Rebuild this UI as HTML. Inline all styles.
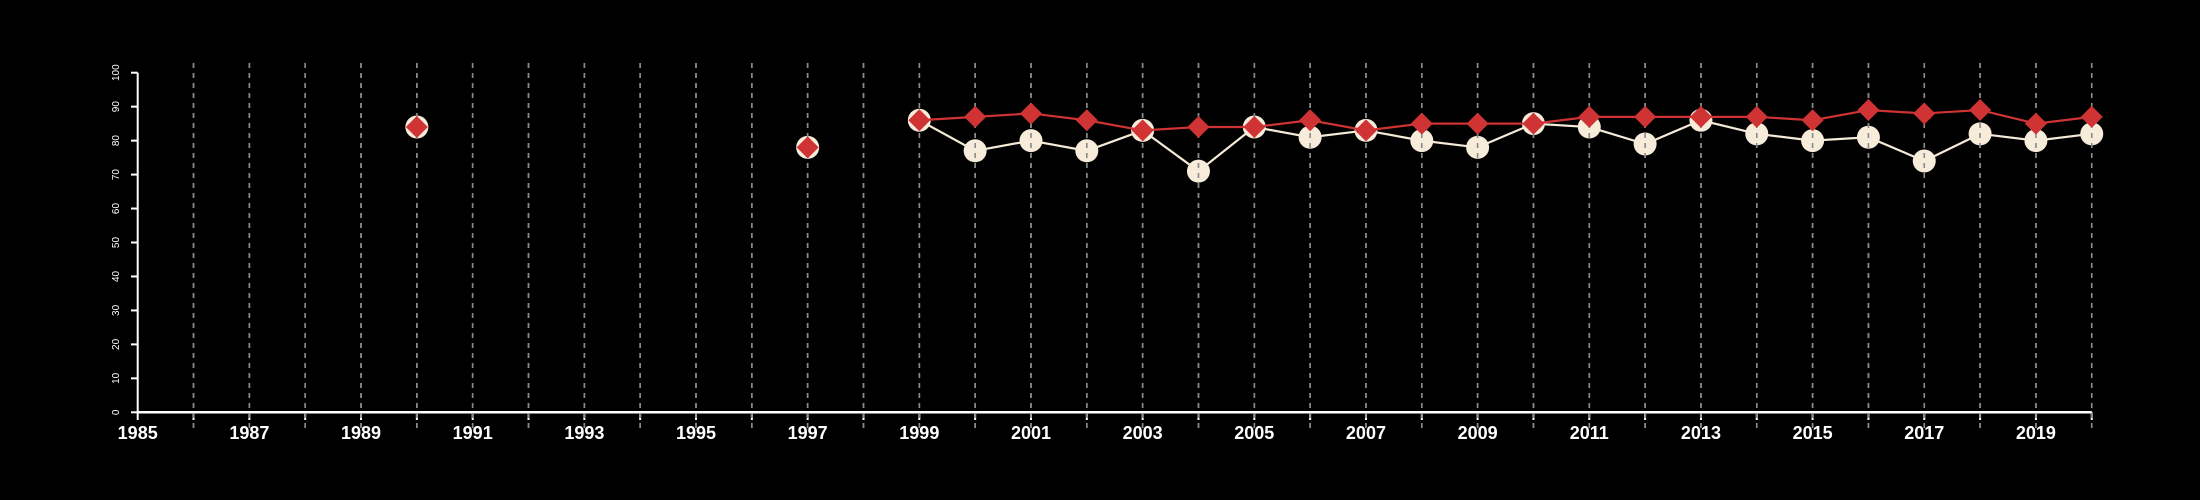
<!DOCTYPE html>
<html><head><meta charset="utf-8"><style>
html,body{margin:0;padding:0;background:#000;}
svg{display:block;font-family:"Liberation Sans",Arial,sans-serif;}
</style></head><body>
<svg id="chart" width="2200" height="500" viewBox="0 0 2200 500" xmlns="http://www.w3.org/2000/svg">
<rect width="2200" height="500" fill="#000"/>
<g id="grid"></g><g id="axes"></g><g id="circles"></g><g id="grid2"></g><g id="diamonds"></g>
</svg>
<script>
const years = [1990,1997,1999,2000,2001,2002,2003,2004,2005,2006,2007,2008,2009,2010,2011,2012,2013,2014,2015,2016,2017,2018,2019,2020];
const redValues = [84,78,86,87,88,86,83,84,84,86,83,85,85,85,87,87,87,87,86,89,88,89,85,87];
const creamValues = [84,78,86,77,80,77,83,71,84,81,83,80,78,85,84,79,86,82,80,81,74,82,80,82];
const yTicks = [0,10,20,30,40,50,60,70,80,90,100];
const xLabelYears = [1985,1987,1989,1991,1993,1995,1997,1999,2001,2003,2005,2007,2009,2011,2013,2015,2017,2019];
const NS='http://www.w3.org/2000/svg';
const x = y => 137.7 + (y-1985)*55.83;
const yS = v => 412.3 - v*3.396;
function mk(tag, attrs, parent){const e=document.createElementNS(NS,tag);for(const k in attrs)e.setAttribute(k,attrs[k]);parent.appendChild(e);return e;}
const grid=document.getElementById('grid'), grid2=document.getElementById('grid2'), axes=document.getElementById('axes');
const circles=document.getElementById('circles'), diamonds=document.getElementById('diamonds');
for(let yr=1986; yr<=2020; yr++){
  for(const g of [grid,grid2]){
    const l=mk('line',{x1:x(yr),x2:x(yr),y1:63,y2:428,stroke:'#8a8a8a','stroke-width':1.6,'stroke-dasharray':'5,5'},g);
    
    
  }
}
let a=mk('line',{x1:137.7,x2:x(2020),y1:412.3,y2:412.3,stroke:'#fff','stroke-width':2.5},axes);


a=mk('line',{x1:137.7,x2:137.7,y1:yS(100),y2:412.3,stroke:'#fff','stroke-width':2},axes);


for(let yr=1985; yr<=2020; yr++){
  const t=mk('line',{x1:x(yr),x2:x(yr),y1:412.3,y2:420,stroke:'#fff','stroke-width':2},axes);
  
  
}
for(const yr of xLabelYears){
  const t=mk('text',{x:x(yr),y:439,'text-anchor':'middle',fill:'#fff','font-size':18,'font-weight':'bold'},axes);
  t.textContent=yr;
  
  
}
for(const v of yTicks){
  const t=mk('line',{x1:131,x2:137.7,y1:yS(v),y2:yS(v),stroke:'#fff','stroke-width':2},axes);
  
  
  const lb=mk('text',{x:0,y:0,transform:`translate(119,${yS(v)}) rotate(-90)`,'text-anchor':'middle',fill:'#fff','font-size':10},axes);
  lb.textContent=v;
  
  
}
function linePts(vals){return years.map((yr,i)=>yr>=1999?`${x(yr)},${yS(vals[i])}`:null).filter(Boolean).join(' ');}
let pl=mk('polyline',{points:linePts(creamValues),fill:'none',stroke:'#f5ead8','stroke-width':2.2},circles);


years.forEach((yr,i)=>{
  const c=mk('circle',{cx:x(yr),cy:yS(creamValues[i]),r:11.5,fill:'#f7ebda'},circles);
  
  
});
pl=mk('polyline',{points:linePts(redValues),fill:'none',stroke:'#cf3334','stroke-width':2.2},diamonds);


years.forEach((yr,i)=>{
  const cx=x(yr), cy=yS(redValues[i]), s=11;
  const d=mk('polygon',{points:`${cx},${cy-s} ${cx+s},${cy} ${cx},${cy+s} ${cx-s},${cy}`,fill:'#d03334'},diamonds);
  
  
});
</script>
</body></html>
